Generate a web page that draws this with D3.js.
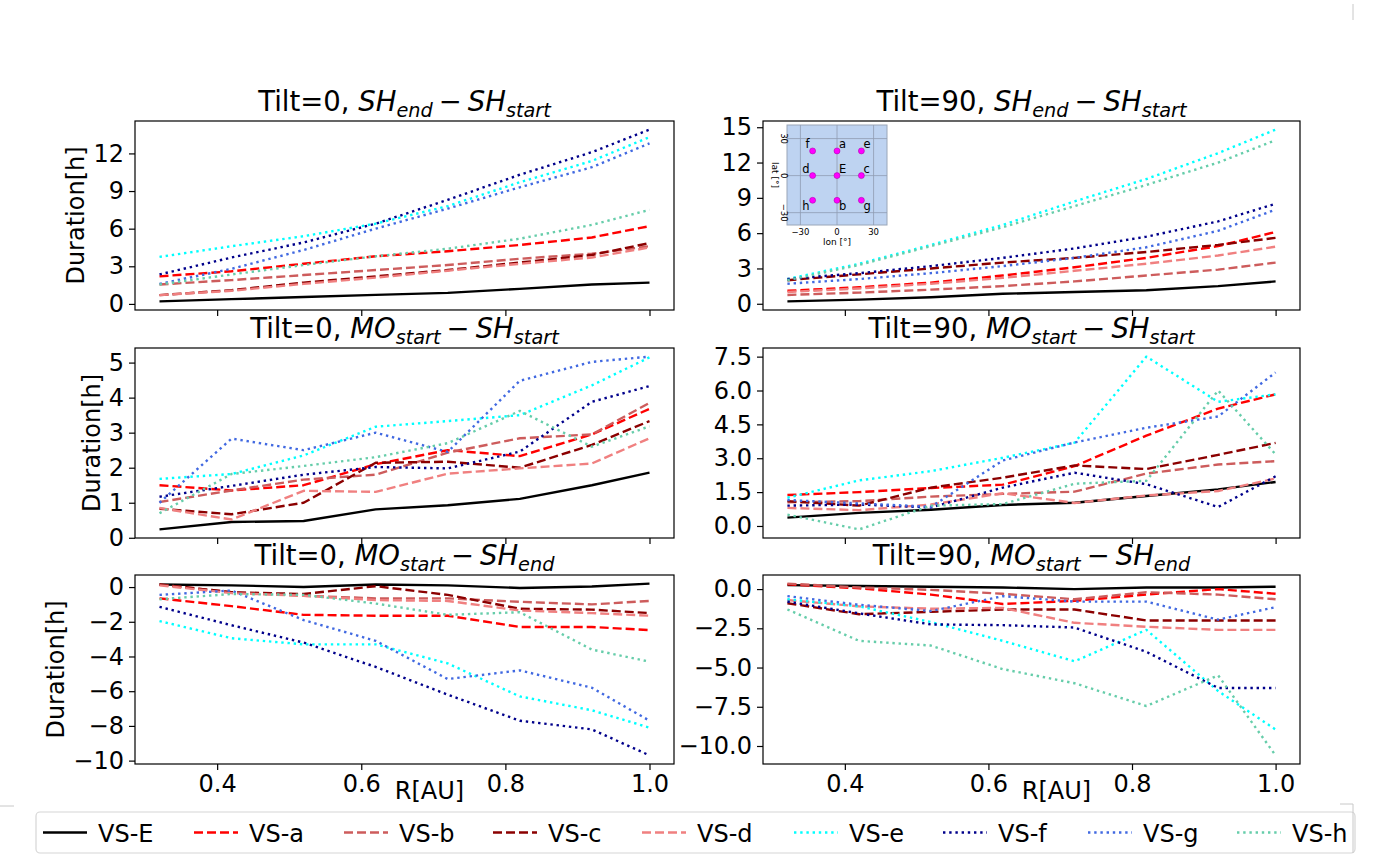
<!DOCTYPE html>
<html>
<head>
<meta charset="utf-8">
<script src="https://cdn.jsdelivr.net/npm/d3@7"></script>
<style>
  html, body { margin: 0; padding: 0; background: #ffffff; }
  svg text { font-family: "DejaVu Sans", sans-serif; fill: #000; }
</style>
</head>
<body>
<svg id="chart" width="1398" height="858"></svg>
<script>
// Heliocentric distance of each virtual spacecraft run [AU]
const radius = [0.32, 0.42, 0.52, 0.62, 0.72, 0.82, 0.92, 1.0];

// Virtual spacecraft, in plotting order
const seriesNames = ["VS-E", "VS-a", "VS-b", "VS-c", "VS-d", "VS-e", "VS-f", "VS-g", "VS-h"];

// Rows follow seriesNames: E, a, b, c, d, e, f, g, h  (durations in hours)
const tilt0ShDuration = [
  [0.20, 0.38, 0.55, 0.72, 0.88, 1.20, 1.55, 1.70],
  [2.20, 2.60, 3.20, 3.80, 4.20, 4.70, 5.30, 6.20],
  [1.55, 1.90, 2.30, 2.70, 3.10, 3.60, 4.00, 4.60],
  [0.70, 1.10, 1.70, 2.20, 2.70, 3.30, 3.90, 4.85],
  [0.70, 1.05, 1.60, 2.10, 2.65, 3.20, 3.70, 4.50],
  [3.75, 4.60, 5.40, 6.40, 7.80, 9.70, 11.40, 13.30],
  [2.35, 3.70, 4.90, 6.40, 8.30, 10.30, 12.10, 13.90],
  [1.60, 2.80, 4.30, 6.00, 7.60, 9.30, 10.90, 12.80],
  [1.55, 2.35, 3.10, 3.80, 4.40, 5.20, 6.30, 7.50]
];

const tilt90ShDuration = [
  [0.20, 0.35, 0.55, 0.85, 1.00, 1.15, 1.50, 1.90],
  [1.10, 1.40, 1.80, 2.40, 3.10, 3.90, 4.90, 6.10],
  [0.75, 0.95, 1.20, 1.50, 1.90, 2.40, 2.90, 3.50],
  [2.00, 2.50, 3.00, 3.50, 3.90, 4.40, 5.00, 5.60],
  [1.00, 1.30, 1.70, 2.20, 2.80, 3.40, 4.10, 4.85],
  [2.10, 3.40, 5.00, 6.70, 8.70, 10.60, 12.80, 14.80],
  [2.10, 2.60, 3.20, 3.90, 4.70, 5.70, 7.00, 8.50],
  [1.70, 2.10, 2.60, 3.20, 3.90, 4.80, 6.20, 8.00],
  [2.00, 3.30, 4.90, 6.50, 8.30, 10.10, 12.00, 13.90]
];

const tilt0MoLead = [
  [0.24, 0.45, 0.48, 0.81, 0.93, 1.11, 1.50, 1.86],
  [1.50, 1.35, 1.50, 2.10, 2.50, 2.33, 2.95, 3.68],
  [1.02, 1.35, 1.66, 1.80, 2.43, 2.84, 2.95, 3.85],
  [0.83, 0.67, 1.00, 2.14, 2.17, 2.00, 2.65, 3.33],
  [0.85, 0.52, 1.34, 1.31, 1.83, 1.98, 2.12, 2.84],
  [1.68, 1.82, 2.35, 3.17, 3.33, 3.50, 4.35, 5.15],
  [1.17, 1.48, 1.80, 2.02, 1.98, 2.46, 3.88, 4.33],
  [1.00, 2.83, 2.50, 3.00, 2.45, 4.48, 5.02, 5.17],
  [0.70, 1.82, 2.05, 2.30, 2.70, 3.62, 2.60, 3.18]
];

const tilt90MoLead = [
  [0.37, 0.58, 0.72, 0.93, 1.03, 1.33, 1.62, 1.95],
  [1.37, 1.50, 1.68, 1.83, 2.65, 4.00, 5.20, 5.83],
  [1.05, 1.10, 1.30, 1.42, 1.52, 2.32, 2.72, 2.87],
  [1.10, 0.90, 1.70, 2.14, 2.68, 2.52, 3.15, 3.68],
  [0.80, 0.70, 0.95, 1.45, 1.02, 1.35, 1.55, 2.10],
  [1.25, 2.02, 2.43, 3.02, 3.69, 7.50, 5.50, 5.83],
  [0.90, 0.95, 0.82, 1.70, 2.36, 1.85, 0.84, 2.20],
  [1.15, 1.00, 0.85, 2.90, 3.70, 4.35, 4.85, 6.80],
  [0.50, -0.15, 0.90, 0.97, 1.87, 2.00, 6.00, 3.17]
];

const tilt0MoAfterEnd = [
  [0.15, 0.10, 0.00, 0.15, 0.10, -0.05, 0.03, 0.20],
  [-0.65, -1.10, -1.60, -1.65, -1.65, -2.30, -2.30, -2.48],
  [0.15, -0.30, -0.50, -0.65, -0.65, -0.85, -1.00, -0.80],
  [0.15, -0.30, -0.40, 0.05, -0.45, -1.25, -1.30, -1.50],
  [0.10, -0.35, -0.50, -0.75, -0.80, -1.35, -1.50, -1.65],
  [-1.96, -2.95, -3.30, -3.30, -4.40, -6.30, -7.10, -8.10],
  [-1.14, -2.20, -3.20, -4.60, -6.20, -7.70, -8.20, -9.70],
  [-0.45, -0.20, -1.90, -3.10, -5.30, -4.80, -5.80, -7.70],
  [-0.70, -0.40, -0.45, -0.95, -1.60, -1.45, -3.60, -4.30]
];

const tilt90MoAfterEnd = [
  [0.25, 0.20, 0.15, 0.10, 0.00, 0.10, 0.10, 0.15],
  [0.30, 0.05, -0.35, -0.95, -0.75, -0.35, 0.00, -0.30],
  [0.35, 0.10, -0.05, -0.30, -0.65, -0.20, -0.35, -0.65],
  [-0.90, -1.60, -1.45, -1.30, -1.30, -2.00, -2.00, -2.00],
  [-0.70, -1.10, -1.25, -1.20, -2.15, -2.40, -2.60, -2.60],
  [-0.65, -1.10, -2.10, -3.30, -4.60, -2.60, -6.50, -8.95],
  [-0.80, -1.55, -2.25, -2.30, -2.45, -4.00, -6.30, -6.30],
  [-0.45, -1.00, -1.40, -0.45, -0.80, -0.80, -1.95, -1.15],
  [-1.30, -3.30, -3.60, -5.10, -6.00, -7.45, -5.50, -10.60]
];

// Tick steps on each panel's y axis
const yTickSteps = [3, 3, 1, 1.5, 2, 2.5];
// x-axis tick values [AU]
const xTickValues = [0.4, 0.6, 0.8, 1.0];

// Virtual spacecraft positions relative to the flux-rope apex [deg]
const siteNames = ["f", "a", "e", "d", "E", "c", "h", "b", "g"];
const siteLon = [-20, 0, 20, -20, 0, 20, -20, 0, 20];
const siteLat = [20, 20, 20, 0, 0, 0, -20, -20, -20];
const siteTicks = [-30, 0, 30];

// ---- styling ----
const seriesColors = ["#000000", "#ff0000", "#cd5c5c", "#8b0000", "#f08080",
                      "#00ffff", "#00008b", "#4169e1", "#66cdaa"];
const seriesDash = ["none", "9,4", "9,4", "9,4", "9,4",
                    "2.4,3.8", "2.4,3.8", "2.4,3.8", "2.4,3.8"];
const lineWidth = 2.4;

const colX = [[135, 674], [763, 1300]];
const rowY = [[121, 310], [348, 538], [575, 764]];

const panels = [
  { data: tilt0ShDuration, col: 0, row: 0, tilt: "0", a: ["SH", "end"], b: ["SH", "start"], fmt: d3.format("d") },
  { data: tilt90ShDuration, col: 1, row: 0, tilt: "90", a: ["SH", "end"], b: ["SH", "start"], fmt: d3.format("d") },
  { data: tilt0MoLead, col: 0, row: 1, tilt: "0", a: ["MO", "start"], b: ["SH", "start"], fmt: d3.format("d") },
  { data: tilt90MoLead, col: 1, row: 1, tilt: "90", a: ["MO", "start"], b: ["SH", "start"], fmt: d3.format(".1f") },
  { data: tilt0MoAfterEnd, col: 0, row: 2, tilt: "0", a: ["MO", "start"], b: ["SH", "end"], fmt: d3.format("d") },
  { data: tilt90MoAfterEnd, col: 1, row: 2, tilt: "90", a: ["MO", "start"], b: ["SH", "end"], fmt: d3.format(".1f") }
];

const svg = d3.select("#chart");
const tickLen = 6, tickPad = 5, tickFont = 24;

// x range padded by 5 % on each side, as an auto-scaled axis would be
const xSpan = d3.max(radius) - d3.min(radius);
const xDomain = [d3.min(radius) - 0.05 * xSpan, d3.max(radius) + 0.05 * xSpan];

panels.forEach((p, i) => {
  const [x0, x1] = colX[p.col];
  const [y0, y1] = rowY[p.row];
  const all = p.data.flat();
  const lo = d3.min(all), hi = d3.max(all), span = hi - lo;
  const x = d3.scaleLinear().domain(xDomain).range([x0, x1]);
  const y = d3.scaleLinear().domain([lo - 0.05 * span, hi + 0.05 * span]).range([y1, y0]);
  const g = svg.append("g");

  // series
  const line = d3.line().x((d, k) => x(radius[k])).y(d => y(d));
  p.data.forEach((vals, s) => {
    g.append("path")
      .attr("d", line(vals))
      .attr("fill", "none")
      .attr("stroke", seriesColors[s])
      .attr("stroke-width", lineWidth)
      .attr("stroke-dasharray", seriesDash[s])
      .attr("stroke-linejoin", "round");
  });

  // frame
  g.append("rect")
    .attr("x", x0).attr("y", y0).attr("width", x1 - x0).attr("height", y1 - y0)
    .attr("fill", "none").attr("stroke", "#000").attr("stroke-width", 1.2);

  // y axis
  const step = yTickSteps[i];
  const yDom = y.domain();
  const yTicks = d3.range(Math.ceil(yDom[0] / step - 1e-9) * step, yDom[1] + 1e-9, step);
  const yAxis = d3.axisLeft(y).tickValues(yTicks).tickFormat(p.fmt)
    .tickSizeInner(tickLen).tickSizeOuter(0).tickPadding(tickPad);
  const ya = g.append("g").attr("transform", `translate(${x0},0)`).call(yAxis);
  ya.select(".domain").remove();
  ya.selectAll("line").attr("stroke-width", 1.2);
  ya.selectAll("text").attr("font-size", tickFont).attr("font-family", "DejaVu Sans");

  // x axis (labels only on the bottom row)
  const xAxis = d3.axisBottom(x).tickValues(xTickValues).tickFormat(d3.format(".1f"))
    .tickSizeInner(tickLen).tickSizeOuter(0).tickPadding(tickPad);
  const xa = g.append("g").attr("transform", `translate(0,${y1})`).call(xAxis);
  xa.select(".domain").remove();
  xa.selectAll("line").attr("stroke-width", 1.2);
  xa.selectAll("text").attr("font-size", tickFont).attr("font-family", "DejaVu Sans");
  if (p.row < 2) xa.selectAll("text").remove();

  // title: Tilt=.., A_sub − B_sub
  const t = g.append("text")
    .attr("x", (x0 + x1) / 2).attr("y", y0 - 10)
    .attr("text-anchor", "middle").attr("font-size", 27.5);
  t.append("tspan").text(`Tilt=${p.tilt}, `);
  t.append("tspan").attr("font-style", "italic").text(p.a[0]);
  t.append("tspan").attr("font-style", "italic").attr("font-size", 19.3).attr("dy", 6).text(p.a[1]);
  t.append("tspan").attr("dy", -6).attr("dx", 6).text("\u2212");
  t.append("tspan").attr("font-style", "italic").attr("dx", 6).text(p.b[0]);
  t.append("tspan").attr("font-style", "italic").attr("font-size", 19.3).attr("dy", 6).text(p.b[1]);

  // y label on the left column, placed just left of this panel's tick labels
  if (p.col === 0) {
    const tickLeft = d3.min(ya.selectAll("text").nodes(), n => {
      const b = n.getBBox();
      return x0 + b.x;
    });
    g.append("text")
      .attr("transform", `translate(${tickLeft - 9},${(y0 + y1) / 2}) rotate(-90)`)
      .attr("text-anchor", "middle").attr("font-size", 24)
      .text("Duration[h]");
  }
  // x label under the bottom row
  if (p.row === 2) {
    g.append("text")
      .attr("x", (x0 + x1) / 2 + 25).attr("y", 799)
      .attr("text-anchor", "middle").attr("font-size", 24)
      .text("R[AU]");
  }
});

// ---- inset map of the spacecraft positions ----
(function drawInset() {
  const ix0 = 787, ix1 = 887, iy0 = 125, iy1 = 225;
  const lon = d3.scaleLinear().domain([-41, 41]).range([ix0, ix1]);
  const lat = d3.scaleLinear().domain([-40, 41]).range([iy1, iy0]);
  const g = svg.append("g");
  g.append("rect").attr("x", ix0).attr("y", iy0).attr("width", ix1 - ix0).attr("height", iy1 - iy0)
    .attr("fill", "#bed3f1").attr("stroke", "#9aa6b8").attr("stroke-width", 1);
  siteTicks.forEach(v => {
    g.append("line").attr("x1", lon(v)).attr("x2", lon(v)).attr("y1", iy0).attr("y2", iy1)
      .attr("stroke", "#8f9cb3").attr("stroke-width", 0.8);
    g.append("line").attr("y1", lat(v)).attr("y2", lat(v)).attr("x1", ix0).attr("x2", ix1)
      .attr("stroke", "#8f9cb3").attr("stroke-width", 0.8);
    g.append("text").attr("x", lon(v)).attr("y", iy1 + 10).attr("text-anchor", "middle")
      .attr("font-size", 8.5).attr("fill", "#333").text(d3.format("d")(v));
    g.append("text").attr("transform", `translate(${ix0 - 6},${lat(v)}) rotate(90)`)
      .attr("text-anchor", "middle").attr("font-size", 8.5).attr("fill", "#333").text(d3.format("d")(v));
  });
  g.append("text").attr("x", (ix0 + ix1) / 2).attr("y", iy1 + 20).attr("text-anchor", "middle")
    .attr("font-size", 9).attr("fill", "#333").text("lon [°]");
  g.append("text").attr("transform", `translate(${ix0 - 15},${(iy0 + iy1) / 2}) rotate(90)`)
    .attr("text-anchor", "middle").attr("font-size", 9).attr("fill", "#333").text("lat [°]");

  siteNames.forEach((name, k) => {
    const px = lon(siteLon[k]), py = lat(siteLat[k]);
    g.append("circle").attr("cx", px).attr("cy", py).attr("r", 3)
      .attr("fill", "#ff00ff").attr("stroke", "#a000a0").attr("stroke-width", 0.5);
    const left = siteLon[k] < 0, below = siteLat[k] < 0;
    g.append("text")
      .attr("x", px + (left ? -3 : 2))
      .attr("y", py + (below ? 10 : -3))
      .attr("text-anchor", left ? "end" : "start")
      .attr("font-size", 11.5).text(name);
  });
})();

// ---- legend ----
(function drawLegend() {
  const g = svg.append("g");
  const lx0 = 36, lx1 = 1355, ly0 = 812, ly1 = 853;
  g.append("rect").attr("x", lx0).attr("y", ly0).attr("width", lx1 - lx0).attr("height", ly1 - ly0)
    .attr("rx", 4).attr("fill", "#fff").attr("stroke", "#d6d6d6").attr("stroke-width", 1.2);
  const handleStarts = [43, 194, 344, 493, 642, 794, 943, 1088, 1237];
  const cy = (ly0 + ly1) / 2;
  seriesNames.forEach((name, s) => {
    const hx = handleStarts[s];
    g.append("line").attr("x1", hx).attr("x2", hx + 44).attr("y1", cy).attr("y2", cy)
      .attr("stroke", seriesColors[s]).attr("stroke-width", lineWidth)
      .attr("stroke-dasharray", seriesDash[s]);
    g.append("text").attr("x", hx + 55).attr("y", cy + 9).attr("font-size", 24).text(name);
  });
})();

// ---- page trim marks ----
(function drawTrimMarks() {
  const g = svg.append("g").attr("stroke", "#c8c8c8").attr("stroke-width", 1);
  [[0, 806, 14, 806], [1340, 804, 1353, 804], [1353, 804, 1353, 853], [1353, 4, 1353, 20]]
    .forEach(([a, b, c, d]) => g.append("line").attr("x1", a).attr("y1", b).attr("x2", c).attr("y2", d));
})();
</script>
</body>
</html>
